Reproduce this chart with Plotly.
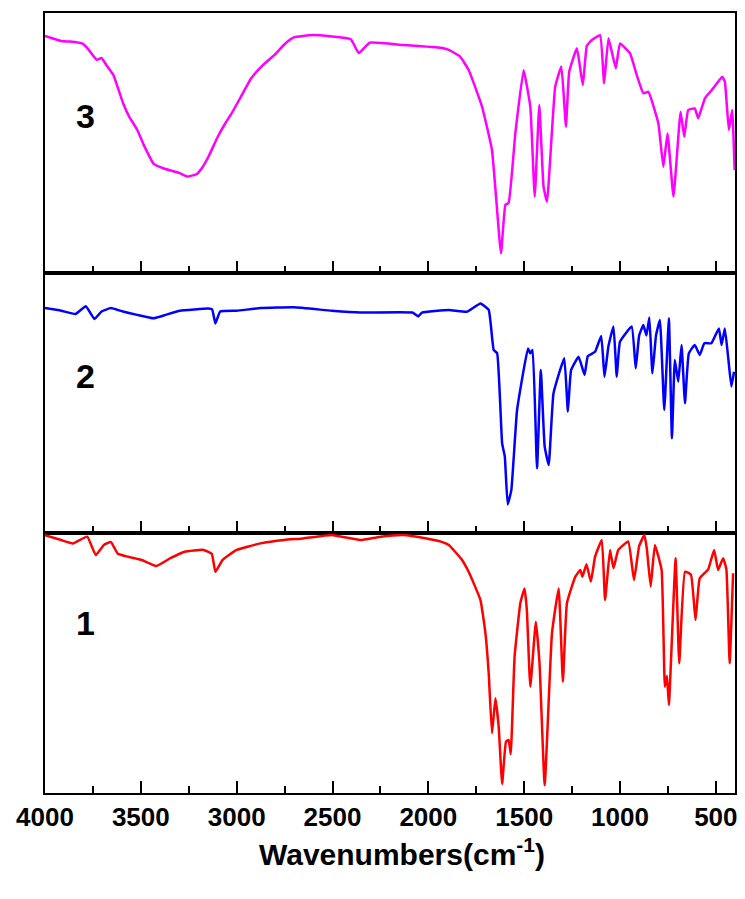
import plotly.graph_objects as go
from plotly.subplots import make_subplots

# ---- data (wavenumber in cm^-1, relative transmittance 0-100 within each panel) ----
wn3 = [4000, 3950, 3916, 3870, 3804, 3780, 3730, 3705, 3680, 3643, 3594, 3560, 3519, 3480, 3433, 3371,
       3300, 3259, 3210, 3180, 3148, 3098, 3060, 3024, 2980, 2925, 2870, 2801, 2750, 2702, 2603, 2405,
       2363, 2306, 2132, 1934, 1893, 1835, 1789, 1720, 1668,
       1621, 1598, 1581, 1546, 1503, 1468, 1445, 1421, 1399, 1381, 1338, 1306, 1282, 1265, 1225, 1194,
       1173, 1147, 1104, 1083, 1060, 1022, 1000, 947, 913, 878, 852, 800, 774, 752, 721, 684, 665, 644,
       610, 592, 557, 514, 467, 453, 432, 415, 402]
t3 = [91.2, 90.0, 89.2, 89.0, 88.2, 86.6, 82.0, 82.7, 80.0, 76.1, 65.6, 60.0, 55.1, 48.5, 42.0, 40.0,
      38.5, 37.1, 38.0, 40.5, 44.6, 52.5, 57.5, 61.7, 67.5, 74.8, 79.5, 84.0, 88.0, 90.6, 91.5, 89.9,
      84.6, 88.6, 87.7, 86.6, 85.8, 83.3, 78.0, 64.0, 47.3,
      7.6, 26.2, 27.0, 53.8, 78.0, 64.0, 29.4, 64.6, 33.2, 27.4, 71.7, 79.4, 56.3, 77.4, 86.4, 72.3,
      87.4, 89.6, 91.5, 73.0, 90.3, 78.7, 88.3, 84.4, 76.2, 69.1, 69.7, 57.6, 40.9, 53.7, 29.4, 62.0,
      52.4, 62.7, 63.3, 59.5, 67.2, 71.0, 75.5, 73.6, 55.0, 62.7, 39.6]

wn2 = [4000, 3916, 3841, 3787, 3742, 3705, 3656, 3594, 3519, 3433, 3371, 3297, 3148, 3128, 3111, 3086,
       3000, 2875, 2702, 2504, 2355, 2083, 2053, 2033, 1893, 1798, 1728, 1685, 1659, 1641, 1615, 1601,
       1586, 1567, 1537, 1480, 1468, 1456, 1433, 1413, 1393, 1372, 1347, 1291, 1272, 1255, 1216, 1185,
       1168, 1130, 1098, 1081, 1060, 1034, 1017, 1000, 939, 918, 900, 878, 862, 847, 831, 812, 792,
       769, 745, 729, 714, 696, 679, 661, 641, 610, 584, 560, 523, 484, 470, 453, 436, 419, 405]
t2 = [86.5, 85.5, 84.2, 87.2, 82.3, 85.2, 86.5, 85.2, 83.9, 82.6, 83.9, 85.5, 86.3, 86.0, 80.6, 85.2,
      85.5, 86.5, 86.8, 85.5, 84.8, 84.8, 83.3, 84.8, 85.8, 85.1, 88.3, 85.8, 70.4, 69.1, 34.5, 29.4,
      11.0, 16.5, 47.3, 71.0, 69.1, 70.4, 24.9, 62.7, 33.2, 26.2, 53.7, 67.2, 46.7, 62.7, 67.8, 60.8,
      68.0, 69.7, 75.8, 60.1, 72.0, 79.4, 60.1, 73.6, 79.4, 63.3, 76.0, 80.0, 76.0, 82.9, 61.4, 76.0,
      81.9, 47.3, 82.6, 36.4, 66.5, 58.2, 72.3, 49.9, 69.1, 72.3, 68.5, 73.0, 73.0, 78.7, 72.3, 78.7,
      67.8, 56.3, 62.0]

wn1 = [4000, 3916, 3854, 3780, 3735, 3693, 3656, 3620, 3569, 3495, 3420, 3346, 3272, 3173, 3130, 3111,
       3074, 3000, 2875, 2752, 2653, 2504, 2355, 2256, 2132, 2009, 1934, 1893, 1860, 1824, 1786, 1728,
       1702, 1685, 1668, 1650, 1633, 1615, 1595, 1581, 1570, 1550, 1520, 1498, 1486, 1468, 1439, 1420,
       1393, 1355, 1320, 1298, 1277, 1233, 1207, 1196, 1175, 1152, 1130, 1095, 1078, 1052, 1034, 1009,
       957, 927, 900, 873, 860, 840, 818, 783, 766, 755, 745, 710, 691, 661, 630, 606, 584, 540, 509,
       488, 462, 445, 428, 410]
t1 = [99.2, 97.3, 96.0, 98.6, 91.5, 95.4, 96.5, 92.0, 90.9, 89.6, 87.3, 90.3, 92.8, 93.5, 92.0, 85.1,
      89.6, 93.5, 96.0, 97.3, 97.9, 99.2, 97.3, 98.5, 99.2, 97.9, 96.7, 95.4, 92.8, 89.6, 84.5, 74.2,
      61.4, 46.0, 23.0, 36.4, 25.5, 3.5, 19.7, 20.4, 15.0, 52.4, 73.0, 78.7, 70.4, 40.9, 65.9, 50.0,
      3.0, 61.4, 78.7, 42.8, 73.0, 83.2, 85.8, 83.2, 88.0, 81.3, 90.9, 97.3, 74.2, 93.5, 86.4, 93.5,
      96.7, 81.9, 95.0, 99.2, 94.0, 79.4, 95.4, 85.8, 40.9, 45.0, 33.8, 90.3, 49.9, 85.1, 84.0, 66.5,
      82.6, 86.0, 93.5, 85.8, 90.3, 86.0, 49.9, 84.5]

panel_labels = ["3", "2", "1"]
label_pos = [(3790, 60.4), (3790, 60.4), (3790, 65.4)]
tick_vals = [4000, 3500, 3000, 2500, 2000, 1500, 1000, 500]
x_title = "Wavenumbers(cm<sup>-1</sup>)"

series = [(wn3, t3, "#FF00FF"), (wn2, t2, "#0000FF"), (wn1, t1, "#FF0000")]

fig = make_subplots(rows=3, cols=1, shared_xaxes=True, vertical_spacing=0)
for i, (w, t, c) in enumerate(series):
    fig.add_trace(go.Scatter(x=w, y=t, mode="lines",
                             line=dict(color=c, width=2.5, shape="spline", smoothing=0.35),
                             showlegend=False), row=i + 1, col=1)
    fig.add_annotation(x=label_pos[i][0], y=label_pos[i][1], text="<b>%s</b>" % panel_labels[i],
                       showarrow=False, font=dict(size=34, color="black", family="Liberation Sans, Arial"),
                       xref="x%s" % ("" if i == 0 else i + 1), yref="y%s" % ("" if i == 0 else i + 1))

for i in range(1, 4):
    fig.update_xaxes(range=[4000, 400], tickvals=tick_vals, ticks="inside", ticklen=12, tickwidth=2,
                     tickcolor="black", showline=True, linecolor="black", linewidth=2, mirror=True,
                     showgrid=False, zeroline=False,
                     minor=dict(ticks="inside", dtick=250, tick0=0, ticklen=7, tickwidth=2,
                                tickcolor="black", showgrid=False),
                     showticklabels=(i == 3),
                     tickfont=dict(size=26, color="black", family="Liberation Sans, Arial", weight="bold"),
                     row=i, col=1)
    fig.update_yaxes(range=[0, 100], showticklabels=False, ticks="", showline=True, linecolor="black",
                     linewidth=2, mirror=True, showgrid=False, zeroline=False, row=i, col=1)

fig.add_annotation(x=0.517, y=-0.075, xref="paper", yref="paper", text="<b>%s</b>" % x_title,
                   showarrow=False, font=dict(size=30, color="black", family="Liberation Sans, Arial"),
                   yanchor="middle", xanchor="center")

fig.update_layout(width=745, height=899, margin=dict(l=45, r=8, t=13, b=106),
                  plot_bgcolor="white", paper_bgcolor="white")
fig.write_html("out.html")
